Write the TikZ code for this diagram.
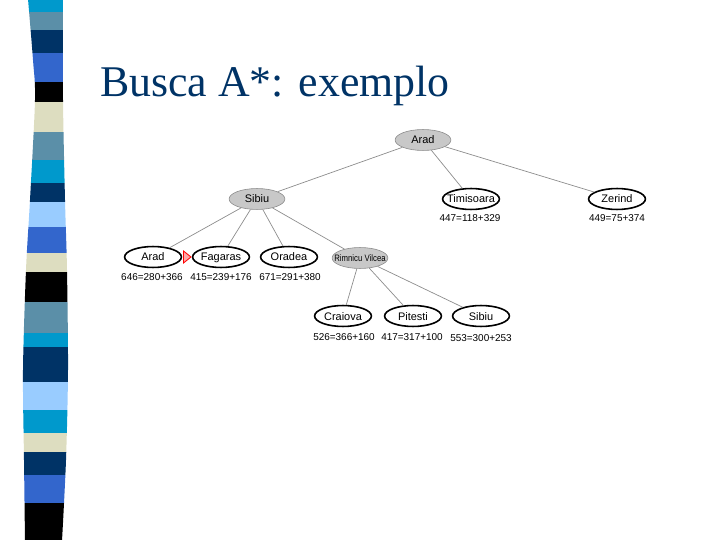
\documentclass[tikz,border=0pt]{standalone}
\usepackage{fontspec}
\setmainfont{Liberation Serif}
\newfontfamily\nodefont{Liberation Sans}
\usetikzlibrary{shapes.geometric}
\definecolor{navy}{HTML}{003366}
\definecolor{cyanb}{HTML}{0099CC}
\definecolor{steel}{HTML}{5B8FA8}
\definecolor{royal}{HTML}{3366CC}
\definecolor{cream}{HTML}{DDDDC0}
\definecolor{lightb}{HTML}{99CCFF}
\definecolor{expgray}{HTML}{C8C8C8}
\definecolor{edgegray}{HTML}{8C8C8C}
\newcommand{\zw}[1]{\makebox[0pt]{#1}}
\tikzset{
  expanded/.style={ellipse, draw=edgegray, fill=expgray, line width=0.6pt, minimum width=56, minimum height=21, inner sep=0pt, text height=9bp, text depth=1bp, font=\nodefont\fontsize{11}{12}\selectfont},
  frontier/.style={ellipse, draw=black, fill=white, line width=1.6pt, minimum width=57, minimum height=21, inner sep=0pt, text height=9bp, text depth=1bp, font=\nodefont\fontsize{11}{12}\selectfont},
  cost/.style={font=\nodefont\fontsize{10}{11}\selectfont, inner sep=0pt},
  edge/.style={draw=edgegray, line width=0.7pt}
}
\begin{document}
\begin{tikzpicture}[x=1bp,y=-1bp]
\useasboundingbox (0,0) rectangle (720,540);
% decorative stripe
\begin{scope}
\clip plot[smooth] coordinates {(28,-1) (33,60) (35,100) (30,200) (26,270) (23,370) (24,460) (25,541)}
  -- plot[smooth] coordinates {(62,541) (66,460) (68,370) (67,270) (65,200) (63,100) (63,-1)} -- cycle;
\fill[cyanb] (0,0) rectangle (80,12);
\fill[steel] (0,12) rectangle (80,30);
\fill[navy] (0,30) rectangle (80,53);
\fill[royal] (0,53) rectangle (80,82);
\fill[black] (0,82) rectangle (80,102);
\fill[cream] (0,102) rectangle (80,132);
\fill[steel] (0,132) rectangle (80,160);
\fill[cyanb] (0,160) rectangle (80,183);
\fill[navy] (0,183) rectangle (80,202);
\fill[lightb] (0,202) rectangle (80,227);
\fill[royal] (0,227) rectangle (80,253);
\fill[cream] (0,253) rectangle (80,272);
\fill[black] (0,272) rectangle (80,302);
\fill[steel] (0,302) rectangle (80,333);
\fill[cyanb] (0,333) rectangle (80,347);
\fill[navy] (0,347) rectangle (80,382);
\fill[lightb] (0,382) rectangle (80,410);
\fill[cyanb] (0,410) rectangle (80,433);
\fill[cream] (0,433) rectangle (80,452);
\fill[navy] (0,452) rectangle (80,475);
\fill[royal] (0,475) rectangle (80,503);
\fill[black] (0,503) rectangle (80,541);
\end{scope}
% title
\node[anchor=base west, inner sep=0pt, text=navy, font=\fontsize{44}{48}\selectfont] (title) at (100,97) {Busca A*: exemplo};
% nodes
\node[expanded] (arad0) at (423,140) {\zw{Arad}};
\node[expanded] (sibiu1) at (257,199) {\zw{Sibiu}};
\node[frontier] (timi) at (471,199) {\zw{Timisoara}};
\node[frontier] (zer) at (617,199) {\zw{Zerind}};
\node[frontier] (arad2) at (153,257) {\zw{Arad}};
\node[frontier] (fag) at (221,257) {\zw{Fagaras}};
\node[frontier] (ora) at (289,257) {\zw{Oradea}};
\node[expanded, font=\nodefont\fontsize{8.5}{9}\selectfont, text height=7.5bp, text depth=0.5bp] (rim) at (360,258) {\zw{\scalebox{0.92}[1.1]{Rimnicu Vilcea}}};
\node[frontier] (cra) at (343,316) {\zw{Craiova}};
\node[frontier] (pit) at (413,316) {\zw{Pitesti}};
\node[frontier] (sib3) at (481,316) {\zw{Sibiu}};
% costs
\node[cost] (ctimi) at (470,218) {447=118+329};
\node[cost] (czer) at (617,218) {449=75+374};
\node[cost] (carad) at (152,277) {646=280+366};
\node[cost] (cfag) at (221,277) {415=239+176};
\node[cost] (cora) at (290,277) {671=291+380};
\node[cost] (ccra) at (344,337) {526=366+160};
\node[cost] (cpit) at (412,337) {417=317+100};
\node[cost] (csib) at (481,338) {553=300+253};
% edges
\path[edge] (arad0) -- (sibiu1);
\path[edge] (arad0) -- (timi);
\path[edge] (arad0) -- (zer);
\path[edge] (sibiu1) -- (arad2);
\path[edge] (sibiu1) -- (fag);
\path[edge] (sibiu1) -- (ora);
\path[edge] (sibiu1) -- (rim);
\path[edge] (rim) -- (cra);
\path[edge] (rim) -- (pit);
\path[edge] (rim) -- (sib3);
% marker
\draw[red, fill=red!35, line width=0.8pt] (183.5,251) -- (191,257) -- (183.5,263) -- cycle;
\end{tikzpicture}
\end{document}
